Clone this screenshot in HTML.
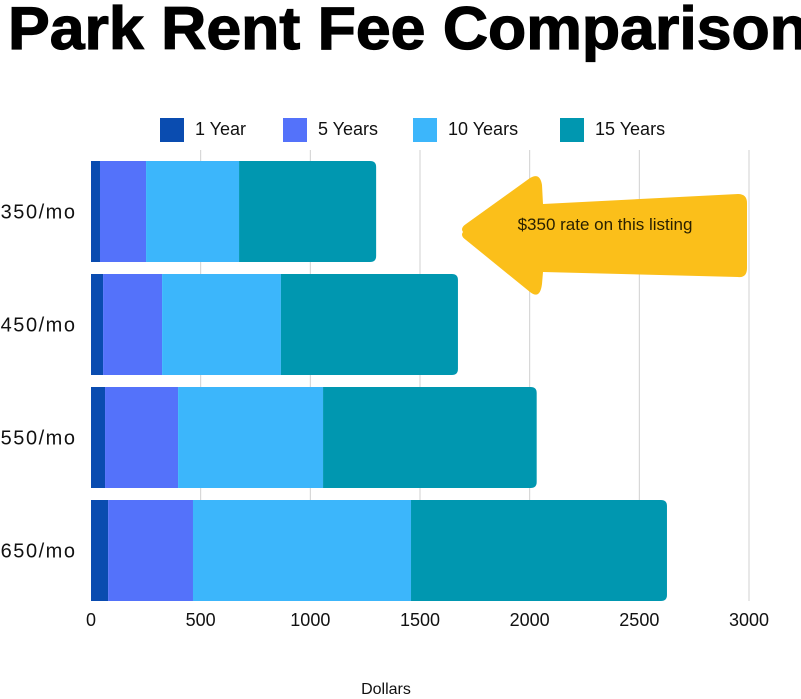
<!DOCTYPE html>
<html><head><meta charset="utf-8"><style>
body{margin:0;background:#fff;width:801px;height:694px;overflow:hidden;font-family:"Liberation Sans",sans-serif}
</style></head><body>
<svg width="801" height="694" xmlns="http://www.w3.org/2000/svg">
<text x="8" y="49" font-size="60" font-weight="bold" textLength="800" lengthAdjust="spacingAndGlyphs" fill="#000" stroke="#000" stroke-width="1.2">Park Rent Fee Comparison</text>
<g id="grid"></g>
<g id="legend"></g>
<g id="bars"></g>
<g id="labels"></g>
<g>
<path d="M463,232 Q460,228 466,224 L530,178 Q540,172 542,185 L543,204 L738,194 Q747,194 747,203 L747,268 Q747,278 738,277 L543,272 L542,284 Q540,300 530,292 L466,240 Q460,236 463,232 Z" fill="#fbbf1a"/>
<text x="605" y="230" font-size="17" fill="#2a2000" text-anchor="middle">$350 rate on this listing</text>
</g>
<text x="386" y="694" font-size="16" text-anchor="middle" fill="#111">Dollars</text>
</svg>
<script>
const categories=["$350/mo","$450/mo","$550/mo","$650/mo"];
const seriesNames=["1 Year","5 Years","10 Years","15 Years"];
const year1=[41,55,64,78];
const year5=[210,269,333,387];
const year10=[424,542,661,994];
const year15=[625,807,974,1167];
const xTicks=[0,500,1000,1500,2000,2500,3000];
const colors=["#0a4cb0","#5472fa","#3cb6fb","#0097b0"];
const NS="http://www.w3.org/2000/svg";
const x0=91,pxPer=(749-91)/3000;
const xs=v=>x0+v*pxPer;
const bandTop=161,bandStep=113,barH=101;
function mk(t,a,p){const e=document.createElementNS(NS,t);for(const k in a)e.setAttribute(k,a[k]);p.appendChild(e);return e;}
const grid=document.getElementById('grid');
xTicks.forEach(t=>{
 if(t>0){const l=mk('line',{x1:xs(t),x2:xs(t),y1:150,y2:601,stroke:'#d0d0d0','stroke-width':1},grid);
 
 }
 const tx=mk('text',{x:xs(t),y:626,'font-size':18,'text-anchor':'middle',fill:'#111'},grid);tx.textContent=t;
 
 
});
const series=[year1,year5,year10,year15];
const bars=document.getElementById('bars');
categories.forEach((c,i)=>{
 let acc=0;const y=bandTop+i*bandStep;
 series.forEach((s,j)=>{
  const xa=xs(acc),xb=xs(acc+s[i]);acc+=s[i];
  let el;
  if(j===3){const r=6;el=mk('path',{d:`M${xa},${y} H${xb-r} Q${xb},${y} ${xb},${y+r} V${y+barH-r} Q${xb},${y+barH} ${xb-r},${y+barH} H${xa} Z`,fill:colors[j]},bars);}
  else el=mk('rect',{x:xa,y:y,width:xb-xa,height:barH,fill:colors[j]},bars);
  
  
 });
 const t=mk('text',{x:-12,y:y+barH/2+7,'font-size':20,'text-anchor':'start',fill:'#111',textLength:87},document.getElementById('labels'));t.textContent=c;
 
 
});
const lg=document.getElementById('legend');
const lx=[160,283,413,560];
seriesNames.forEach((n,j)=>{
 const r=mk('rect',{x:lx[j],y:118,width:24,height:24,fill:colors[j]},lg);
 
 
 const t=mk('text',{x:lx[j]+35,y:135,'font-size':18,fill:'#111'},lg);t.textContent=n;
 
 
});
</script>
</body></html>
